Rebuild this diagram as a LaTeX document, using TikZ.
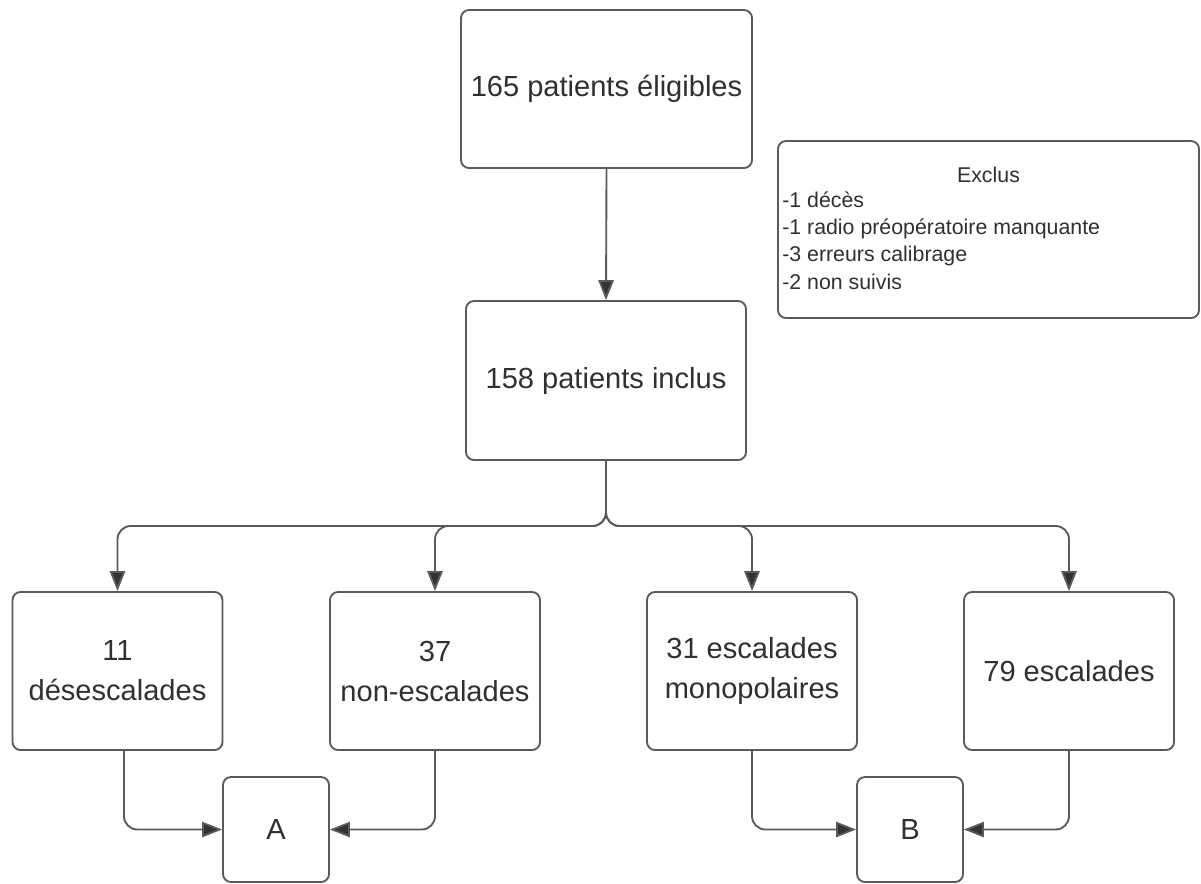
\documentclass[tikz,border=0pt]{standalone}
\usepackage{fontspec}
\setmainfont{Liberation Sans}
\usetikzlibrary{arrows.meta,calc}
\definecolor{linec}{HTML}{5A5A5A}
\definecolor{textc}{HTML}{303030}
\definecolor{tipc}{HTML}{333333}
\tikzset{
  box/.style={draw=linec, line width=1.4pt, rounded corners=6pt, fill=white,
    text=textc, align=center, inner sep=2pt, font=\fontsize{21.8pt}{30pt}\selectfont},
  conn/.style={draw=linec, line width=1.4pt, rounded corners=10pt,
    -{Triangle[length=15pt,width=11.5pt,fill=tipc]}},
  small/.style={text=textc, inner sep=0pt, font=\fontsize{16pt}{20pt}\selectfont}
}
\begin{document}
\begin{tikzpicture}[x=0.75pt,y=-0.75pt]
\useasboundingbox (0,0) rectangle (1201,883);
% top boxes
\node[box, minimum width=218.25pt, minimum height=118.5pt] (elig) at (606.5,89) {165 patients éligibles};
\node[box, minimum width=315.75pt, minimum height=132.75pt] (excl) at (988.5,229.5) {};
\node[small, anchor=base] (exT) at (988.5,182) {Exclus};
\node[small, anchor=base west] (ex1) at (782,207) {-1 décès};
\node[small, anchor=base west] (ex2) at (782,234) {-1 radio préopératoire manquante};
\node[small, anchor=base west] (ex3) at (782,261) {-3 erreurs calibrage};
\node[small, anchor=base west] (ex4) at (782,289) {-2 non suivis};
\node[box, minimum width=210pt, minimum height=119.25pt] (incl) at (606,380.5) {158 patients inclus};
% bottom boxes
\node[box, minimum width=157.5pt, minimum height=118.5pt] (d1) at (117.5,671) {11\\désescalades};
\node[box, minimum width=157.5pt, minimum height=118.5pt] (d2) at (435,671) {37\\non-escalades};
\node[box, minimum width=157.5pt, minimum height=118.5pt] (d3) at (752,671) {31 escalades\\monopolaires};
\node[box, minimum width=157.5pt, minimum height=118.5pt] (d4) at (1069,671) {79 escalades};
\node[box, minimum width=79.5pt, minimum height=78.75pt] (A) at (276,829.5) {A};
\node[box, minimum width=79.5pt, minimum height=78.75pt] (B) at (910,829.5) {B};
% connectors
\draw[conn] (elig.south) -- (incl.north);
\coordinate (split) at (606,526);
\draw[conn] (incl.south) |- (d1.north |- split) -- (d1.north);
\draw[conn] (incl.south) |- (d2.north |- split) -- (d2.north);
\draw[conn] (incl.south) |- (d3.north |- split) -- (d3.north);
\draw[conn] (incl.south) |- (d4.north |- split) -- (d4.north);
\coordinate (d1out) at ($(d1.south)+(6.5,0)$);
\draw[conn] (d1out) |- (A.west);
\draw[conn] (d2.south) |- (A.east);
\draw[conn] (d3.south) |- (B.west);
\draw[conn] (d4.south) |- (B.east);
\end{tikzpicture}
\end{document}
